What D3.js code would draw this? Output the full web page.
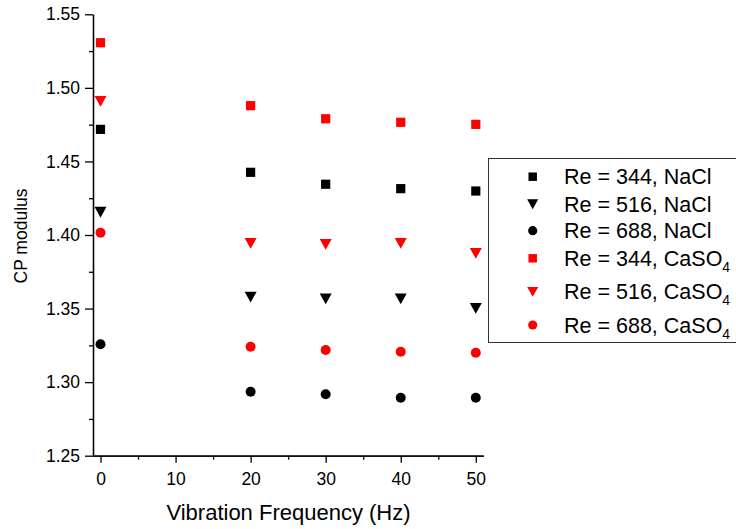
<!DOCTYPE html>
<html>
<head>
<meta charset="utf-8">
<script src="https://cdn.jsdelivr.net/npm/d3@7"></script>
<style>
  body { margin: 0; background: #fff; }
  text { font-family: "Liberation Sans", Arial, sans-serif; fill: #000; }
  .axis path, .axis line { stroke: #000; stroke-width: 1.3; }
</style>
</head>
<body>
<svg width="736" height="529"></svg>
<script>
var frequencies = [0, 20, 30, 40, 50];

var re344NaCl  = [1.4718, 1.4426, 1.4345, 1.4315, 1.4299];
var re516NaCl  = [1.4156, 1.3579, 1.3567, 1.3567, 1.3502];
var re688NaCl  = [1.3257, 1.2935, 1.2917, 1.2894, 1.2894];
var re344CaSO4 = [1.5307, 1.4879, 1.4790, 1.4766, 1.4752];
var re516CaSO4 = [1.4910, 1.3944, 1.3937, 1.3944, 1.3876];
var re688CaSO4 = [1.4016, 1.3241, 1.3218, 1.3207, 1.3200];

var xTicks = [0, 10, 20, 30, 40, 50];
var xMinorTicks = [5, 15, 25, 35, 45];
var yTicks = [1.25, 1.30, 1.35, 1.40, 1.45, 1.50, 1.55];
var yMinorTicks = [1.275, 1.325, 1.375, 1.425, 1.475, 1.525];

var series = [
  {name: 'Re = 344, NaCl', sub: '', values: re344NaCl, shape: 'square', color: '#000'},
  {name: 'Re = 516, NaCl', sub: '', values: re516NaCl, shape: 'triangle', color: '#000'},
  {name: 'Re = 688, NaCl', sub: '', values: re688NaCl, shape: 'circle', color: '#000'},
  {name: 'Re = 344, CaSO', sub: '4', values: re344CaSO4, shape: 'square', color: '#ff0000'},
  {name: 'Re = 516, CaSO', sub: '4', values: re516CaSO4, shape: 'triangle', color: '#ff0000'},
  {name: 'Re = 688, CaSO', sub: '4', values: re688CaSO4, shape: 'circle', color: '#ff0000'}
];

var svg = d3.select('svg');

var xScale = d3.scaleLinear().domain([-1, 51]).range([93, 483.3]);
var yScale = d3.scaleLinear().domain([1.25, 1.55]).range([455.7, 14.3]);

// marker paths, drawn around (0,0)
function markerPath(shape) {
  if (shape === 'square') return 'M-4.6,-4.6H4.6V4.6H-4.6Z';
  if (shape === 'triangle') return 'M-6,-5.2L6,-5.2L0,5.6Z';
  return d3.symbol().type(d3.symbolCircle).size(78)();
}

// minor ticks first so major ticks sit on top
svg.append('g')
  .attr('class', 'axis')
  .attr('transform', 'translate(0,455.7)')
  .call(d3.axisBottom(xScale).tickValues(xMinorTicks).tickSize(4).tickSizeOuter(0).tickFormat(''));

svg.append('g')
  .attr('class', 'axis')
  .attr('transform', 'translate(93,0)')
  .call(d3.axisLeft(yScale).tickValues(yMinorTicks).tickSize(4).tickSizeOuter(0).tickFormat(''));

var xAxis = svg.append('g')
  .attr('class', 'axis')
  .attr('transform', 'translate(0,455.7)')
  .call(d3.axisBottom(xScale).tickValues(xTicks).tickSize(7).tickSizeOuter(0).tickPadding(10));
xAxis.selectAll('text').style('font-size', '17.5px');

var yAxis = svg.append('g')
  .attr('class', 'axis')
  .attr('transform', 'translate(93,0)')
  .call(d3.axisLeft(yScale).tickValues(yTicks).tickSize(8).tickSizeOuter(0).tickPadding(5)
    .tickFormat(d3.format('.2f')));
yAxis.selectAll('text').style('font-size', '17.5px');

svg.append('text')
  .attr('x', 288.5)
  .attr('y', 520)
  .attr('text-anchor', 'middle')
  .style('font-size', '22px')
  .text('Vibration Frequency (Hz)');

svg.append('text')
  .attr('transform', 'translate(27,236) rotate(-90)')
  .attr('text-anchor', 'middle')
  .style('font-size', '17.5px')
  .text('CP modulus');

// points
series.forEach(function(s) {
  svg.append('g')
    .selectAll('path')
    .data(s.values)
    .enter()
    .append('path')
    .attr('transform', function(d, i) {
      return 'translate(' + [xScale(frequencies[i]), yScale(d)] + ')';
    })
    .attr('d', markerPath(s.shape))
    .attr('fill', s.color);
});

// legend
var legend = svg.append('g');
legend.append('rect')
  .attr('x', 488.5)
  .attr('y', 158.5)
  .attr('width', 260)
  .attr('height', 184)
  .attr('fill', '#fff')
  .attr('stroke', '#333')
  .attr('stroke-width', 1);

var rowY = [176.7, 204, 230.7, 258.3, 291.7, 325];

var rows = legend.selectAll('g.row')
  .data(series)
  .enter()
  .append('g')
  .attr('class', 'row')
  .attr('transform', function(d, i) { return 'translate(0,' + rowY[i] + ')'; });

rows.append('path')
  .attr('transform', 'translate(532.7,0) scale(0.92)')
  .attr('d', function(d) { return markerPath(d.shape); })
  .attr('fill', function(d) { return d.color; });

var label = rows.append('text')
  .attr('x', 564)
  .attr('y', 7.5)
  .style('font-size', '21.5px');
label.append('tspan').text(function(d) { return d.name; });
label.append('tspan')
  .attr('dy', 6)
  .style('font-size', '14px')
  .text(function(d) { return d.sub; });
</script>
</body>
</html>
